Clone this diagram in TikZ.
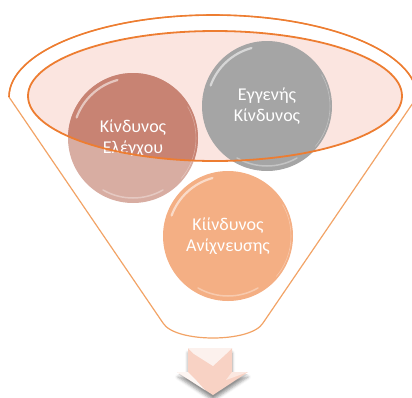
\documentclass[tikz,border=0pt]{standalone}
\usepackage{fontspec}
\setmainfont{Carlito}
\usetikzlibrary{shadows.blur}
\definecolor{rim}{HTML}{ED7D31}
\definecolor{rimlight}{HTML}{F2A366}
\definecolor{bowl}{HTML}{FBE5E0}
\definecolor{ctrlin}{HTML}{C88373}
\definecolor{ctrlout}{HTML}{D8ADA2}
\definecolor{inher}{HTML}{A5A5A5}
\definecolor{detect}{HTML}{F4AF84}
\definecolor{arrowpink}{HTML}{F8D2C4}
\tikzset{
  ball/.style={circle, minimum size=130pt, inner sep=0pt, text=white,
    font=\fontsize{18}{20.5}\selectfont, align=center},
  gloss/.style={white, line width=2.2pt, opacity=0.55, line cap=round},
}
\begin{document}
\begin{tikzpicture}[x=1pt,y=-1pt]
\useasboundingbox (0,0) rectangle (412,397);

% funnel body: back rim arc, straight sides, rounded foot
\draw[rimlight, line width=1.2pt, line join=round]
  (417,97) arc[start angle=0, end angle=-180, x radius=204, y radius=82]
  -- (163,323) .. controls (175,343) and (251,343) .. (263,323) -- cycle;
\draw[rim, line width=1.6pt]
  (417,97) arc[start angle=0, end angle=-180, x radius=204, y radius=82];

% bowl surface
\fill[bowl] (215,96) ellipse[x radius=187, y radius=65];

% the three risk balls
\node[ball, fill=ctrlout] (ctrl) at (133,138) {};
\begin{scope}
  \clip (215,96) ellipse[x radius=187, y radius=65];
  \fill[ctrlin] (ctrl.center) circle[radius=65];
\end{scope}
\node[ball, fill=inher] (inh) at (267,106) {};
\node[ball, fill=detect] (det) at (228,236) {};

% glossy rims
\foreach \b in {ctrl,inh,det}{
  \draw[gloss] ([shift={(200:60)}]\b.center) arc[start angle=200, end angle=255, radius=60];
  \draw[gloss, opacity=0.35, line width=1.5pt] ([shift={(60:60)}]\b.center) arc[start angle=60, end angle=120, radius=60];
  \draw[white, opacity=0.3, line width=0.6pt] ([shift={(-30:63)}]\b.center) arc[start angle=-30, end angle=40, radius=63];
}

% labels
\node[ball] at (ctrl) {Κίνδυνος\\Ελέγχου};
\node[ball] at (inh) {Εγγενής\\Κίνδυνος};
\node[ball] at (det) {Κίίνδυνος\\Ανίχνευσης};

% front rim of the bowl
\draw[rim, line width=1.8pt] (215,96) ellipse[x radius=187, y radius=65];

% outlet arrow
\fill[gray, opacity=0.25, blur shadow={shadow xshift=0pt, shadow yshift=-3pt, shadow blur radius=3pt}]
  (188,350) -- (232,350) -- (232,374) -- (248,374) -- (213,397) -- (178,374) -- (188,374) -- cycle;
\fill[arrowpink]
  (188,348) -- (232,348) -- (232,372) -- (248,372) -- (213,395) -- (177,372) -- (188,372) -- cycle;
\fill[white, opacity=0.7] (188,348) -- (232,348) -- (226,354) -- (213,366) -- (194,354) -- cycle;
\fill[white, opacity=0.8] (177,372) -- (188,372) -- (194,378) -- (205,390) -- cycle;
\fill[white, opacity=0.5] (232,372) -- (248,372) -- (226,380) -- cycle;
\end{tikzpicture}
\end{document}
